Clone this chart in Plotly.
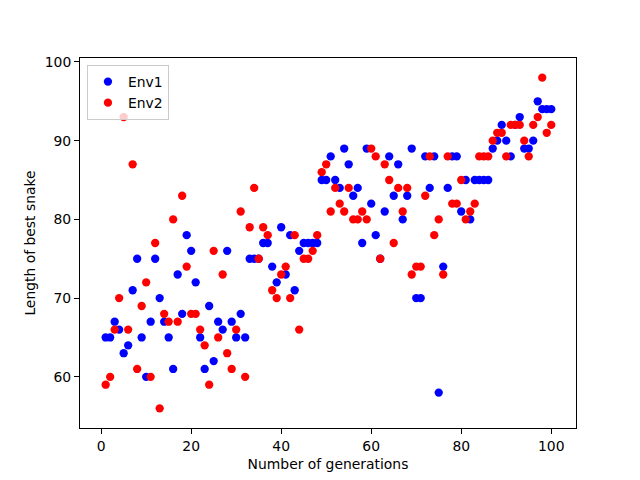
import plotly.graph_objects as go

generations = list(range(1, 101))

env1 = [65, 65, 67, 66, 63, 64, 71, 75, 65, 60,
        67, 75, 70, 67, 65, 61, 73, 68, 78, 76,
        72, 65, 61, 69, 62, 67, 66, 76, 67, 65,
        68, 65, 75, 75, 75, 77, 77, 74, 72, 79,
        73, 78, 71, 76, 77, 77, 77, 77, 85, 85,
        88, 85, 84, 89, 87, 83, 84, 77, 89, 82,
        78, 75, 81, 88, 83, 87, 80, 83, 89, 70,
        70, 88, 84, 88, 58, 74, 84, 88, 88, 81,
        85, 80, 85, 85, 85, 85, 89, 90, 92, 90,
        88, 92, 93, 89, 89, 90, 95, 94, 94, 94]

env2 = [59, 60, 66, 70, 93, 66, 87, 61, 69, 72,
        60, 77, 56, 68, 67, 80, 67, 83, 74, 68,
        68, 66, 64, 59, 76, 65, 73, 63, 61, 66,
        81, 60, 79, 84, 75, 79, 78, 71, 70, 73,
        74, 70, 78, 66, 75, 75, 76, 78, 86, 87,
        81, 84, 82, 81, 84, 80, 80, 81, 80, 89,
        88, 75, 87, 85, 77, 84, 81, 84, 73, 74,
        74, 83, 88, 78, 80, 73, 88, 82, 82, 85,
        80, 81, 82, 88, 88, 88, 90, 91, 91, 88,
        92, 92, 92, 90, 88, 92, 93, 98, 91, 92]

x_ticks = [0, 20, 40, 60, 80, 100]
y_ticks = [60, 70, 80, 90, 100]

FONT = "DejaVu Sans"
FS = 13.9

fig = go.Figure()
fig.add_trace(go.Scatter(x=generations, y=env1, mode="markers", name="Env1",
                         marker=dict(color="blue", size=8.3, line=dict(width=0))))
fig.add_trace(go.Scatter(x=generations, y=env2, mode="markers", name="Env2",
                         marker=dict(color="red", size=8.3, line=dict(width=0))))

axis_common = dict(showline=True, linecolor="black", linewidth=1, mirror=True,
                   ticks="outside", ticklen=5, tickwidth=1, tickcolor="black",
                   showgrid=False, zeroline=False, automargin=False,
                   tickfont=dict(family=FONT, size=FS, color="black"))

fig.update_layout(
    width=640, height=480,
    paper_bgcolor="white", plot_bgcolor="white",
    margin=dict(l=72, r=72, t=50, b=60, autoexpand=False),
    font=dict(family=FONT, size=FS, color="black"),
    xaxis=dict(range=[-4.7, 105.5], tickvals=x_ticks,
               title=dict(text="Number of generations", standoff=6,
                          font=dict(family=FONT, size=FS, color="black")),
               **axis_common),
    yaxis=dict(range=[53.5, 100.5], tickvals=y_ticks,
               title=dict(text="Length of best snake", standoff=5,
                          font=dict(family=FONT, size=FS, color="black")),
               **axis_common),
    legend=dict(x=0.014, y=0.981, xanchor="left", yanchor="top",
                bordercolor="#cccccc", borderwidth=1,
                bgcolor="rgba(255,255,255,0.8)",
                font=dict(family=FONT, size=FS, color="black"),
                tracegroupgap=2),
    showlegend=True,
)

fig.write_html("out.html")
